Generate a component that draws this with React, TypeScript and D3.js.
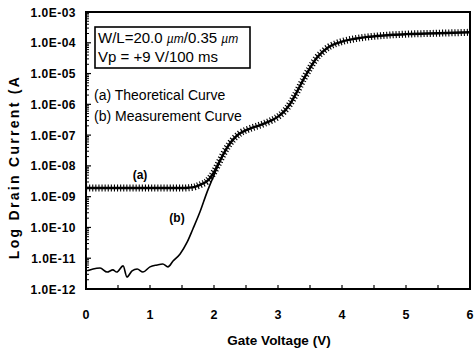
import React from "react";
import * as d3 from "d3";

// Theoretical curve (a): gate voltage (V) and log10 drain current (A)
const V_A = [0, 0.4, 0.8, 1.2, 1.5, 1.6, 1.7, 1.8, 1.9, 2.0, 2.1, 2.2, 2.3, 2.4, 2.5, 2.6, 2.7, 2.8, 2.9, 3.0, 3.1, 3.2, 3.3, 3.4, 3.5, 3.6, 3.7, 3.8, 3.9, 4.0, 4.2, 4.4, 4.6, 4.8, 5.0, 5.5, 6.0];
const LOG_A = [-8.72, -8.72, -8.72, -8.72, -8.72, -8.71, -8.68, -8.6, -8.48, -8.2, -7.8, -7.42, -7.14, -6.95, -6.84, -6.76, -6.69, -6.61, -6.52, -6.4, -6.22, -5.95, -5.58, -5.18, -4.82, -4.5, -4.29, -4.13, -4.03, -3.96, -3.87, -3.81, -3.77, -3.74, -3.72, -3.69, -3.66];

// Measurement curve (b)
const V_B = [0.02, 0.11, 0.22, 0.33, 0.42, 0.48, 0.58, 0.64, 0.72, 0.8, 0.89, 1.0, 1.11, 1.2, 1.28, 1.36, 1.47, 1.58, 1.67, 1.78, 1.89, 2.0, 2.1, 2.2];
const LOG_B = [-11.41, -11.35, -11.32, -11.45, -11.38, -11.45, -11.25, -11.61, -11.41, -11.35, -11.45, -11.28, -11.22, -11.19, -11.28, -11.09, -10.86, -10.48, -10.05, -9.5, -8.86, -8.3, -7.82, -7.42];

const X_TICKS = [0, 1, 2, 3, 4, 5, 6];
const X_MINOR = [0.5, 1, 1.5, 2, 2.5, 3, 3.5, 4, 4.5, 5, 5.5];
const Y_EXPS = [-3, -4, -5, -6, -7, -8, -9, -10, -11, -12];
const Y_LABELS = ["1.0E-03", "1.0E-04", "1.0E-05", "1.0E-06", "1.0E-07", "1.0E-08", "1.0E-09", "1.0E-10", "1.0E-11", "1.0E-12"];

const W = 475, H = 355;
const L = 86, R = 470, T = 12, B = 289;
const FONT = "'Liberation Sans', Arial, Helvetica, sans-serif";

export default function App() {
  const x = d3.scaleLinear().domain([0, 6]).range([L, R]);
  const y = d3.scaleLog().domain([1e-12, 1e-3]).range([B, T]);

  const line = d3
    .line<[number, number]>()
    .x((d) => x(d[0]))
    .y((d) => y(Math.pow(10, d[1])))
    .curve(d3.curveMonotoneX);

  const pathA = line(V_A.map((v, i) => [v, LOG_A[i]] as [number, number])) || "";
  const pathB = line(V_B.map((v, i) => [v, LOG_B[i]] as [number, number])) || "";

  const minorY: number[] = [];
  for (let e = -12; e < -3; e++) {
    for (let m = 2; m <= 9; m++) minorY.push(m * Math.pow(10, e));
  }

  return (
    <svg width={W} height={H} style={{ position: "absolute", left: 0, top: 0, background: "#fff" }}>
      <rect x={0} y={0} width={W} height={H} fill="#fff" />
      {/* y minor ticks */}
      {minorY.map((v, i) => (
        <line key={"my" + i} x1={L} x2={L + 3} y1={y(v)} y2={y(v)} stroke="#000" strokeWidth={1} />
      ))}
      {Y_EXPS.map((e, i) => (
        <line key={"My" + i} x1={L} x2={L + 5} y1={y(Math.pow(10, e))} y2={y(Math.pow(10, e))} stroke="#000" strokeWidth={1.2} />
      ))}
      {X_MINOR.map((v, i) => (
        <line key={"mx" + i} x1={x(v)} x2={x(v)} y1={B} y2={B - 4} stroke="#000" strokeWidth={1.2} />
      ))}
      {/* frame */}
      <rect x={L} y={T} width={R - L} height={B - T} fill="none" stroke="#000" strokeWidth={2} />

      {/* measurement curve */}
      <path d={pathB} fill="none" stroke="#000" strokeWidth={1.6} />
      {/* theoretical curve with dense + markers */}
      <path d={pathA} fill="none" stroke="#000" strokeWidth={2.4} />
      <path d={pathA} fill="none" stroke="#000" strokeWidth={7} strokeDasharray="1.1 2" />

      {/* y tick labels */}
      {Y_EXPS.map((e, i) => (
        <text key={"yl" + i} x={76} y={y(Math.pow(10, e)) + 4.5} textAnchor="end" fontFamily={FONT} fontWeight="bold" fontSize={12} letterSpacing={0.5}>
          {Y_LABELS[i]}
        </text>
      ))}
      {/* x tick labels */}
      {X_TICKS.map((v, i) => (
        <text key={"xl" + i} x={x(v)} y={319} textAnchor="middle" fontFamily={FONT} fontWeight="bold" fontSize={12.5}>
          {v}
        </text>
      ))}
      <text x={279} y={345} textAnchor="middle" fontFamily={FONT} fontWeight="bold" fontSize={13.5}>
        Gate Voltage (V)
      </text>
      <text transform="translate(19,167) rotate(-90)" textAnchor="middle" fontFamily={FONT} fontWeight="bold" fontSize={14} letterSpacing={2.3}>
        Log Drain Current (A
      </text>

      {/* legend box */}
      <rect x={95} y={27} width={155} height={41} fill="#fff" stroke="#000" strokeWidth={1.6} />
      <text x={98} y={43} fontFamily={FONT} fontSize={15}>
        W/L=20.0 <tspan fontStyle="italic" fontSize={12}>µm</tspan>/0.35 <tspan fontStyle="italic" fontSize={12}>µm</tspan>
      </text>
      <text x={98} y={62} fontFamily={FONT} fontSize={15}>
        Vp = +9 V/100 ms
      </text>
      <text x={94} y={100} fontFamily={FONT} fontSize={14}>
        (a) Theoretical Curve
      </text>
      <text x={94} y={121} fontFamily={FONT} fontSize={14}>
        (b) Measurement Curve
      </text>
      <text x={140} y={179} textAnchor="middle" fontFamily={FONT} fontWeight="bold" fontSize={12}>
        (a)
      </text>
      <text x={177} y={222} textAnchor="middle" fontFamily={FONT} fontWeight="bold" fontSize={12}>
        (b)
      </text>
    </svg>
  );
}
